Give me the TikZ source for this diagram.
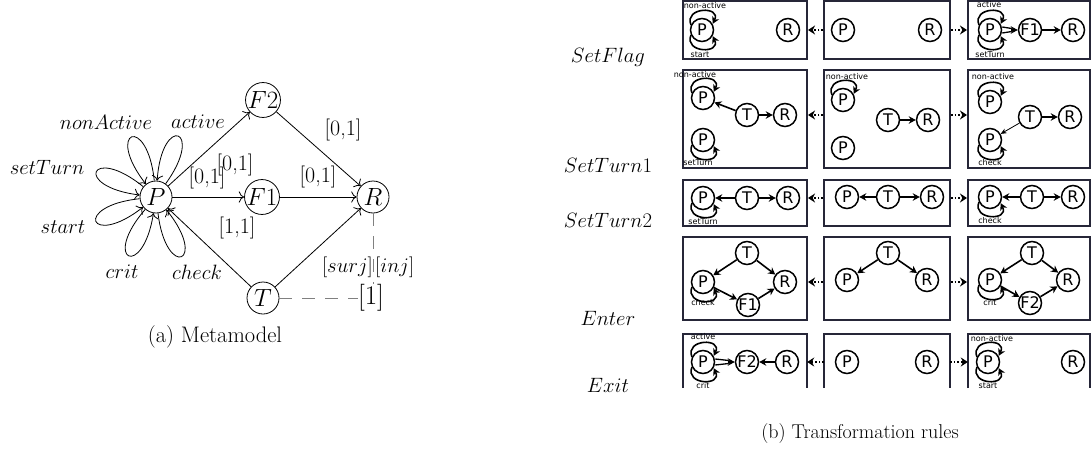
\documentclass[tikz,border=0pt]{standalone}
\usepackage{fontspec}
\newfontfamily\dejavu{DejaVu Sans}
\usetikzlibrary{arrows.meta}
\definecolor{boxcol}{RGB}{38,38,56}
\newcommand\UpLoop[1]{\draw[bedge] (#1.155) .. controls +(-7,18) and +(9,18) .. (#1.30);}
\newcommand\DnLoop[1]{\draw[bedge] (#1.205) .. controls +(-7,-18) and +(9,-18) .. (#1.330);}
\newcommand\DblArrow[2]{%
  \draw[line width=1.3pt] ([yshift=3pt]#1.east) -- ([xshift=-6pt,yshift=1.5pt]#2.west);
  \draw[line width=1.3pt] ([yshift=-3pt]#1.east) -- ([xshift=-6pt,yshift=-1.5pt]#2.west);
  \draw[bedge] ([xshift=-7pt]#2.west) -- (#2.west);}
\begin{document}
\begin{tikzpicture}[x=1pt,y=1pt,
  mnode/.style={circle, draw, line width=0.8pt, inner sep=0pt, minimum size=32pt, font=\fontsize{26}{26}\selectfont},
  medge/.style={line width=0.8pt, -{Computer Modern Rightarrow[scale=1.6]}},
  mlab/.style={font=\fontsize{21.5}{21.5}\selectfont, inner sep=0pt},
  rlab/.style={font=\fontsize{22}{22}\selectfont, inner sep=0pt},
  clab/.style={font=\fontsize{22}{22}\selectfont, inner sep=0pt},
  bnode/.style={circle, draw, line width=1.5pt, inner sep=0pt, minimum size=23pt, font=\dejavu\fontsize{16}{16}\selectfont},
  bedge/.style={line width=1.6pt, -{Stealth[length=7pt,width=7.5pt]}},
  tedge/.style={line width=0.8pt, -{Stealth[length=6pt,width=5pt]}},
  slab/.style={font=\dejavu\fontsize{8}{8}\selectfont, inner sep=0pt},
  rbox/.style={draw=boxcol, line width=2pt, inner sep=0pt},
  obox/.style={inner sep=0pt},
  dotarr/.style={line width=1.6pt, dotted, -{Stealth[length=7pt,width=9pt]}},
  mdash/.style={gray, line width=0.9pt, dash pattern=on 13pt off 10pt},
]
\useasboundingbox (0,0) rectangle (1091,451);

% ---------------- (a) Metamodel ----------------
\node[mnode] (P) at (156,254) {$P$};
\node[mnode] (F1) at (262,254) {$F1$};
\node[mnode] (F2) at (263,351) {$F2$};
\node[mnode] (R) at (373,254) {$R$};
\node[mnode] (T) at (263,153) {$T$};

\draw[medge] (P) -- (F2);
\draw[medge] (P) -- (F1);
\draw[medge] (F1) -- (R);
\draw[medge] (F2) -- (R);
\draw[medge] (T) -- (R);
\draw[medge] (T) -- (P);

% loops
\draw[medge] (P.96) .. controls +(96:68) and +(128:68) .. (P.128);
\draw[medge] (P.54) .. controls +(54:68) and +(86:68) .. (P.86);
\draw[medge] (P.141) .. controls +(141:68) and +(173:68) .. (P.173);
\draw[medge] (P.186) .. controls +(186:68) and +(218:68) .. (P.218);
\draw[medge] (P.229) .. controls +(229:68) and +(261:68) .. (P.261);
\draw[medge] (P.277) .. controls +(277:68) and +(309:68) .. (P.309);

\node[mlab] at (106,329) {$nonActive$};
\node[mlab] at (198,329) {$active$};
\node[mlab] at (47,284) {$setTurn$};
\node[mlab] at (63,224) {$start$};
\node[mlab] at (122,179) {$crit$};
\node[mlab] at (197,179) {$check$};

\node[clab] at (343,321) {[0,1]};
\node[clab] at (235,286) {[0,1]};
\node[clab] at (207,273) {[0,1]};
\node[clab] at (318,274) {[0,1]};
\node[clab] at (237,223) {[1,1]};

\node[font=\fontsize{27}{27}\selectfont, inner sep=0pt] (one) at (371,153) {[1]};
\draw[mdash] (R.south) -- (R.south |- one.north);
\draw[mdash] (T.east) -- (one.west);
\node[mlab, anchor=east] at (373,184) {$[surj]$};
\node[mlab, anchor=west] at (375,184) {$[inj]$};

\node[font=\fontsize{22.5}{22.5}\selectfont, inner sep=0pt] at (215,114) {(a) Metamodel};

% ---------------- (b) Transformation rules ----------------
% boxes
\node[rbox, minimum width=124pt, minimum height=58pt] (b11) at (745,421) {};
\node[rbox, minimum width=126pt, minimum height=58pt] (b12) at (887,421) {};
\node[rbox, minimum width=122pt, minimum height=58pt] (b13) at (1029,421) {};
\node[rbox, minimum width=124pt, minimum height=98pt] (b21) at (745,332) {};
\node[rbox, minimum width=126pt, minimum height=98pt] (b22) at (887,332) {};
\node[rbox, minimum width=122pt, minimum height=98pt] (b23) at (1029,332) {};
\node[rbox, minimum width=124pt, minimum height=46pt] (b31) at (745,248) {};
\node[rbox, minimum width=126pt, minimum height=46pt] (b32) at (887,248) {};
\node[rbox, minimum width=122pt, minimum height=46pt] (b33) at (1029,248) {};
\node[rbox, minimum width=124pt, minimum height=83pt] (b41) at (745,172.5) {};
\node[rbox, minimum width=126pt, minimum height=83pt] (b42) at (887,172.5) {};
\node[rbox, minimum width=122pt, minimum height=83pt] (b43) at (1029,172.5) {};
\node[obox, minimum width=124pt, minimum height=54pt] (b51) at (745,90) {};
\node[obox, minimum width=126pt, minimum height=54pt] (b52) at (887,90) {};
\node[obox, minimum width=122pt, minimum height=54pt] (b53) at (1029,90) {};
\foreach \b in {b51,b52,b53}
  \draw[boxcol, line width=2pt] (\b.south west) |- (\b.north east) -- (\b.south east);

% row labels
\node[rlab] at (608,394) {$SetFlag$};
\node[rlab] at (608,286) {$SetTurn1$};
\node[rlab] at (608,231) {$SetTurn2$};
\node[rlab] at (608,133) {$Enter$};
\node[rlab] at (608,66) {$Exit$};

% row 1
\node[bnode] (a1p) at (702,421) {P};
\node[bnode] (a1r) at (788,421) {R};
\UpLoop{a1p}\DnLoop{a1p}
\node[slab] at (705,445) {non-active};
\node[slab] at (700,396) {start};
\node[bnode] (a2p) at (843,421) {P};
\node[bnode] (a2r) at (930,421) {R};
\node[bnode] (a3p) at (990,421) {P};
\node[bnode] (a3f) at (1030,421) {F1};
\node[bnode] (a3r) at (1073,421) {R};
\UpLoop{a3p}\DnLoop{a3p}
\DblArrow{a3p}{a3f}
\draw[bedge] (a3f) -- (a3r);
\node[slab] at (989,446) {active};
\node[slab] at (990,396) {setTurn};
\draw[dotarr] (b12.west |- a1r) -- (b11.east |- a1r);
\draw[dotarr] (b12.east |- a1r) -- (b13.west |- a1r);

% row 2
\node[bnode] (c1p) at (703,353) {P};
\node[bnode] (c1q) at (703,311) {P};
\node[bnode] (c1t) at (747,336) {T};
\node[bnode] (c1r) at (785,336) {R};
\UpLoop{c1p}\DnLoop{c1q}
\draw[bedge] (c1t) -- (c1p);
\draw[bedge] (c1t) -- (c1r);
\node[slab] at (695,376) {non-active};
\node[slab] at (698,288) {setTurn};
\node[bnode] (c2p) at (843,351) {P};
\node[bnode] (c2q) at (843,303) {P};
\node[bnode] (c2t) at (888,331) {T};
\node[bnode] (c2r) at (928,331) {R};
\UpLoop{c2p}
\draw[bedge] (c2t) -- (c2r);
\node[slab] at (847,374) {non-active};
\node[bnode] (c3p) at (990,349) {P};
\node[bnode] (c3q) at (990,311) {P};
\node[bnode] (c3t) at (1030,334) {T};
\node[bnode] (c3r) at (1070,334) {R};
\UpLoop{c3p}\DnLoop{c3q}
\draw[tedge] (c3t) -- (c3q);
\draw[bedge] (c3t) -- (c3r);
\node[slab] at (993,374) {non-active};
\node[slab] at (990,288) {check};
\draw[dotarr] (b22.west |- c1r) -- (b21.east |- c1r);
\draw[dotarr] (b22.east |- c1r) -- (b23.west |- c1r);

% row 3
\node[bnode] (d1p) at (703,253) {P};
\node[bnode] (d1t) at (747,253) {T};
\node[bnode] (d1r) at (788,253) {R};
\DnLoop{d1p}
\draw[bedge] (d1t) -- (d1p);
\draw[bedge] (d1t) -- (d1r);
\node[slab] at (703,229) {setTurn};
\node[bnode] (d2p) at (847,254) {P};
\node[bnode] (d2t) at (888,254) {T};
\node[bnode] (d2r) at (932,254) {R};
\draw[bedge] (d2t) -- (d2p);
\draw[bedge] (d2t) -- (d2r);
\node[bnode] (d3p) at (990,254) {P};
\node[bnode] (d3t) at (1032,254) {T};
\node[bnode] (d3r) at (1073,254) {R};
\DnLoop{d3p}
\draw[bedge] (d3t) -- (d3p);
\draw[bedge] (d3t) -- (d3r);
\node[slab] at (990,230) {check};
\draw[dotarr] (b32.west |- d1r) -- (b31.east |- d1r);
\draw[dotarr] (b32.east |- d1r) -- (b33.west |- d1r);

% row 4
\node[bnode] (e1t) at (747,198) {T};
\node[bnode] (e1p) at (703,169) {P};
\node[bnode] (e1r) at (785,169) {R};
\node[bnode] (e1f) at (748,146) {F1};
\DnLoop{e1p}
\draw[bedge] (e1t) -- (e1p);
\draw[bedge] (e1t) -- (e1r);
\draw[bedge] (e1p) -- (e1f);
\draw[bedge] (e1f) -- (e1r);
\node[slab] at (703,148) {check};
\node[bnode] (e2t) at (888,198) {T};
\node[bnode] (e2p) at (847,171) {P};
\node[bnode] (e2r) at (927,171) {R};
\draw[bedge] (e2t) -- (e2p);
\draw[bedge] (e2t) -- (e2r);
\node[bnode] (e3t) at (1032,198) {T};
\node[bnode] (e3p) at (990,171) {P};
\node[bnode] (e3r) at (1068,171) {R};
\node[bnode] (e3f) at (1030,148) {F2};
\DnLoop{e3p}
\draw[bedge] (e3t) -- (e3p);
\draw[bedge] (e3t) -- (e3r);
\draw[bedge] (e3p) -- (e3f);
\draw[bedge] (e3f) -- (e3r);
\node[slab] at (990,148) {crit};
\draw[dotarr] (b42.west |- e1r) -- (b41.east |- e1r);
\draw[dotarr] (b42.east |- e1r) -- (b43.west |- e1r);

% row 5
\node[bnode] (f1p) at (703,89) {P};
\node[bnode] (f1f) at (747,89) {F2};
\node[bnode] (f1r) at (787,89) {R};
\UpLoop{f1p}\DnLoop{f1p}
\DblArrow{f1p}{f1f}
\draw[bedge] (f1r) -- (f1f);
\node[slab] at (703,114) {active};
\node[slab] at (703,65) {crit};
\node[bnode] (f2p) at (847,89) {P};
\node[bnode] (f2r) at (927,89) {R};
\node[bnode] (f3p) at (988,89) {P};
\node[bnode] (f3r) at (1073,89) {R};
\UpLoop{f3p}\DnLoop{f3p}
\node[slab] at (992,112) {non-active};
\node[slab] at (988,65) {start};
\draw[dotarr] (b52.west |- f1r) -- (b51.east |- f1r);
\draw[dotarr] (b52.east |- f1r) -- (b53.west |- f1r);

\node[font=\fontsize{20}{20}\selectfont, inner sep=0pt] at (860,17) {(b) Transformation rules};
\end{tikzpicture}
\end{document}
